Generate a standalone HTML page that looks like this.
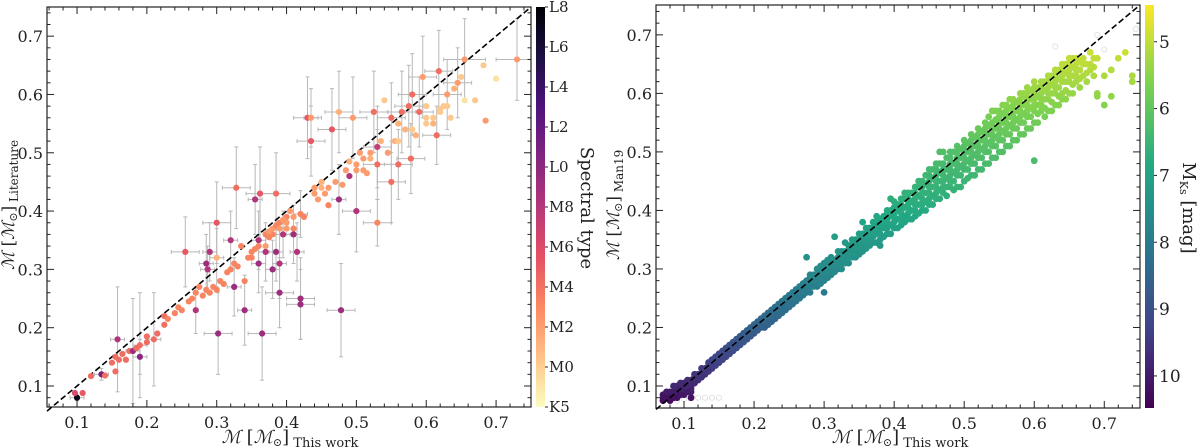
<!DOCTYPE html>
<html><head><meta charset="utf-8"><style>
html,body{margin:0;padding:0;background:#fff;width:1200px;height:448px;overflow:hidden}
svg{display:block;font-family:"DejaVu Serif","Liberation Serif",serif}
</style></head><body>
<svg id="fig" width="1200" height="448" viewBox="0 0 1200 448"></svg>
<script>
// ---------- LEFT PANEL DATA ----------
const lx=[0.100,0.097,0.108,0.120,0.135,0.140,0.155,0.150,0.155,0.160,
0.165,0.170,0.175,0.158,0.180,0.190,0.185,0.190,0.200,0.200,
0.210,0.215,0.225,0.225,0.230,0.240,0.245,0.250,0.255,0.260,
0.265,0.270,0.270,0.275,0.280,0.285,0.290,0.295,0.300,0.305,
0.310,0.285,0.290,0.287,0.300,0.300,0.302,0.315,0.320,0.320,
0.325,0.325,0.330,0.335,0.340,0.340,0.328,0.345,0.350,0.355,
0.355,0.360,0.360,0.362,0.365,0.370,0.370,0.375,0.380,0.380,
0.385,0.385,0.380,0.390,0.390,0.385,0.390,0.395,0.400,0.405,
0.410,0.410,0.415,0.420,0.420,0.420,0.425,0.430,0.435,0.435,
0.440,0.445,0.450,0.455,0.460,0.460,0.465,0.470,0.475,0.475,
0.478,0.480,0.485,0.490,0.490,0.495,0.500,0.500,0.505,0.510,
0.515,0.520,0.525,0.530,0.530,0.530,0.535,0.540,0.545,0.550,
0.550,0.555,0.560,0.560,0.565,0.570,0.575,0.578,0.580,0.585,
0.590,0.595,0.600,0.600,0.610,0.615,0.618,0.620,0.625,0.630,
0.635,0.640,0.645,0.650,0.655,0.655,0.670,0.682,0.685,0.700,
0.730,0.370,0.375,0.390,0.395,0.400,0.410,0.400,0.360,0.350,
0.440,0.450,0.500,0.520,0.510,0.560,0.580,0.600,0.620,0.630,0.610];
const ly=[0.080,0.088,0.088,0.117,0.120,0.118,0.125,0.140,0.150,0.145,
0.155,0.145,0.160,0.180,0.160,0.150,0.165,0.170,0.175,0.185,
0.180,0.190,0.205,0.220,0.215,0.225,0.235,0.230,0.330,0.245,
0.250,0.260,0.230,0.270,0.255,0.265,0.260,0.270,0.265,0.280,
0.275,0.310,0.330,0.300,0.320,0.380,0.190,0.295,0.300,0.350,
0.270,0.310,0.305,0.340,0.280,0.230,0.440,0.320,0.330,0.335,
0.420,0.350,0.310,0.430,0.190,0.330,0.360,0.355,0.360,0.370,
0.375,0.330,0.300,0.310,0.260,0.430,0.380,0.360,0.390,0.400,
0.370,0.360,0.330,0.395,0.250,0.240,0.390,0.560,0.520,0.560,
0.440,0.420,0.450,0.430,0.410,0.440,0.540,0.450,0.420,0.570,
0.230,0.445,0.470,0.460,0.485,0.560,0.480,0.400,0.500,0.470,
0.465,0.500,0.570,0.510,0.480,0.380,0.520,0.590,0.500,0.450,
0.560,0.520,0.480,0.550,0.570,0.540,0.580,0.490,0.600,0.530,
0.570,0.630,0.580,0.560,0.550,0.530,0.640,0.570,0.580,0.600,
0.560,0.610,0.620,0.630,0.660,0.590,0.590,0.650,0.555,0.627,
0.660,0.340,0.365,0.370,0.385,0.380,0.390,0.370,0.340,0.320,
0.430,0.440,0.470,0.490,0.490,0.520,0.540,0.550,0.575,0.580,0.560];
const lspt=[18,7,6,5,12,5,5,5,5,5,
5,5,5,9,10,11,5,5,5,5,
5,5,5,5,4,4,4,4,6,4,
4,4,9,4,4,4,4,4,4,4,
4,10,9,9,2,6,10,4,4,9,
10,4,4,4,4,10,5,4,4,4,
9,9,10,6,10,9,4,4,4,3,
4,10,10,9,10,5,4,9,4,3,
4,10,9,4,10,10,4,6,6,3,
3,3,2,3,4,3,6,3,10,2,
10,3,3,9,2,3,3,9,3,3,
3,3,5,8,5,4,2,1,3,5,
5,2,5,2,5,2,5,5,5,2,
5,3,1,1,2,5,5,1,1,3,
1,2,3,1,3,0,1,1,3,0,
3,3,3,3,3,3,3,3,4,4,
3,2,3,2,3,1,1,1,1,1,1];
const lxe=[0.01,0,0,0,0.01,0,0,0,0,0,
0,0,0,0.01,0.01,0.01,0,0.01,0,0,
0.01,0,0,0,0,0,0,0,0.02,0,
0,0,0,0,0,0,0,0,0,0,
0,0.01,0.01,0.01,0.01,0.02,0.02,0,0,0.01,
0.01,0,0,0,0,0.01,0.02,0,0,0,
0.01,0.01,0.01,0.02,0.02,0.01,0,0,0,0,
0,0.01,0.01,0.01,0.02,0.02,0,0.01,0,0,
0,0.01,0.01,0.01,0.02,0.02,0,0.02,0.02,0.01,
0,0,0,0,0,0,0.02,0,0.01,0.02,
0.02,0,0,0,0,0.02,0,0.02,0,0,
0,0,0.02,0.02,0.02,0.02,0,0,0,0.02,
0.02,0,0.02,0,0.02,0,0.02,0.02,0.02,0,
0.02,0.02,0,0,0,0.02,0.02,0,0,0.02,
0,0,0.02,0,0.03,0,0,0,0,0,
0.03,0,0,0,0,0,0,0,0,0,
0,0,0,0,0,0,0,0,0,0,0];
const lye=[0.005,0,0,0,0.01,0,0,0,0,0,
0,0,0,0.09,0.09,0.03,0,0.09,0,0,
0.08,0,0,0,0,0,0,0,0.06,0,
0,0,0.04,0,0,0,0,0,0,0,
0,0.05,0.05,0.04,0.05,0.07,0.07,0,0,0.05,
0.05,0,0,0,0,0.06,0.07,0,0,0,
0.06,0.05,0.05,0.08,0.08,0.05,0,0,0,0,
0,0.05,0.05,0.06,0.06,0.07,0,0.04,0,0,
0,0.05,0.05,0.04,0.07,0.06,0,0.07,0.06,0.05,
0,0,0,0,0,0,0.07,0,0.06,0.07,
0.08,0,0,0,0,0.07,0,0.07,0,0,
0,0,0.07,0.07,0.06,0.04,0,0,0,0.07,
0.06,0,0.06,0,0.07,0,0.07,0.06,0.07,0,
0.06,0.07,0,0,0,0.05,0.07,0,0,0.06,
0,0,0.06,0,0.07,0,0,0,0,0,
0.07,0,0,0,0,0,0,0,0,0,
0,0,0,0,0,0,0,0,0,0,0];
const ltickVals=[0.1,0.2,0.3,0.4,0.5,0.6,0.7];
const sptLabels=["K5","M0","M2","M4","M6","M8","L0","L2","L4","L6","L8"];
const sptTickVals=[-2,0,2,4,6,8,10,12,14,16,18];

// ---------- RIGHT PANEL DATA ----------
const rxCols=[0.07,0.08,0.09,0.10,0.11,0.12,0.13,0.14,0.15,0.16,0.17,0.18,0.19,0.20,0.21,0.22,0.23,0.24,0.25,0.26,0.27,0.28,0.29,0.30,0.31,0.32,0.33,0.34,0.35,0.36,0.37,0.38,0.39,0.40,0.41,0.42,0.43,0.44,0.45,0.46,0.47,0.48,0.49,0.50,0.51,0.52,0.53,0.54,0.55,0.56,0.57,0.58,0.59,0.60,0.61,0.62,0.63,0.64,0.65,0.66,0.67,0.68,0.69,0.70,0.71,0.72,0.73,0.74];
const ryRows=[[0.075,0.08,0.085],[0.075,0.085,0.09,0.08],[0.08,0.09,0.095,0.1],[0.085,0.095,0.1,0.105],[0.09,0.1,0.11,0.095,0.08],
[0.11,0.12,0.115],[0.12,0.125,0.13],[0.13,0.14,0.135,0.145],[0.14,0.15,0.155,0.145],[0.15,0.16,0.165,0.155],
[0.16,0.17,0.175,0.165],[0.17,0.18,0.185,0.175],[0.18,0.19,0.195,0.185],[0.19,0.2,0.205,0.195],[0.2,0.21,0.215,0.205],
[0.21,0.22,0.225,0.205],[0.22,0.225,0.235,0.215],[0.225,0.235,0.24,0.245,0.23],[0.235,0.245,0.25,0.255,0.24],[0.245,0.25,0.26,0.265,0.255],
[0.255,0.26,0.27,0.275,0.265],[0.26,0.27,0.275,0.285,0.29],[0.27,0.28,0.285,0.29,0.3],[0.28,0.29,0.295,0.3,0.31,0.26],[0.29,0.3,0.305,0.31,0.32],
[0.3,0.31,0.315,0.32,0.33],[0.31,0.32,0.325,0.33,0.345],[0.32,0.33,0.335,0.34,0.35],[0.325,0.335,0.345,0.35,0.36,0.34],[0.335,0.345,0.355,0.36,0.37,0.35],
[0.345,0.355,0.36,0.37,0.38],[0.35,0.36,0.37,0.375,0.385,0.34],[0.36,0.37,0.38,0.385,0.395,0.4],[0.37,0.38,0.39,0.395,0.405,0.415],[0.375,0.385,0.395,0.4,0.41,0.42],
[0.385,0.395,0.405,0.41,0.42,0.43],[0.39,0.4,0.41,0.42,0.43,0.44],[0.4,0.41,0.42,0.43,0.44,0.45],[0.41,0.42,0.43,0.44,0.45,0.46,0.47],[0.42,0.43,0.44,0.45,0.46,0.47,0.48],
[0.43,0.44,0.45,0.46,0.47,0.48,0.5],[0.44,0.45,0.46,0.47,0.48,0.49,0.5],[0.44,0.46,0.47,0.48,0.49,0.5,0.51],[0.45,0.47,0.48,0.49,0.5,0.51,0.52],[0.46,0.48,0.49,0.5,0.51,0.52,0.53],
[0.47,0.49,0.5,0.51,0.52,0.53,0.54],[0.48,0.5,0.51,0.52,0.53,0.54,0.55],[0.49,0.51,0.52,0.53,0.54,0.55,0.57],[0.5,0.52,0.53,0.54,0.55,0.56,0.57],[0.51,0.53,0.54,0.55,0.56,0.57,0.58],
[0.52,0.54,0.55,0.56,0.57,0.58,0.59],[0.53,0.55,0.56,0.57,0.58,0.59,0.6],[0.54,0.56,0.57,0.58,0.59,0.6,0.61],[0.55,0.57,0.58,0.59,0.6,0.61,0.62,0.485],[0.57,0.58,0.59,0.6,0.61,0.62],
[0.57,0.59,0.6,0.61,0.62,0.63],[0.58,0.6,0.61,0.62,0.63,0.64],[0.59,0.6,0.62,0.63,0.64,0.65],[0.6,0.62,0.63,0.64,0.65,0.66],[0.62,0.63,0.64,0.65,0.66],
[0.63,0.65,0.66],[0.64,0.65,0.67],[0.6,0.66,0.595],[0.63,0.58],[0.64,0.595],[0.66],[0.67],[0.63,0.62]];
const rxCols2=[0.075,0.085,0.095,0.105,0.115,0.125,0.135,0.145,0.155,0.165,0.175,0.185,0.195,0.205,0.215,0.225,0.235,0.245,0.255,0.265,0.275,0.285,0.295,0.305,0.315,0.325,0.335,0.345,0.355,0.365,0.375,0.385,0.395,0.405,0.415,0.425,0.435,0.445,0.455,0.465,0.475,0.485,0.495,0.505,0.515,0.525,0.535,0.545,0.555,0.565,0.575,0.585,0.595,0.605,0.615,0.625,0.635,0.645,0.655,0.665,0.675,0.685];
const ryRows2=[[0.08,0.09],[0.08,0.09,0.1],[0.085,0.095,0.105],[0.09,0.1,0.11],[0.105,0.115,0.12],
[0.115,0.12,0.13],[0.125,0.135,0.14],[0.135,0.145,0.15],[0.145,0.155,0.16],[0.155,0.165,0.17],
[0.165,0.175,0.18],[0.175,0.185,0.19],[0.185,0.195,0.2],[0.195,0.205,0.21],[0.2,0.21,0.22],
[0.21,0.22,0.23],[0.22,0.23,0.24],[0.23,0.24,0.25],[0.24,0.25,0.26],[0.25,0.26,0.27],
[0.26,0.27,0.28,0.32],[0.27,0.28,0.29],[0.275,0.285,0.295,0.305],[0.285,0.295,0.305,0.315],[0.295,0.305,0.315,0.355],
[0.3,0.31,0.32,0.33],[0.31,0.32,0.33,0.34],[0.32,0.33,0.34,0.35],[0.33,0.34,0.35,0.36,0.38],[0.34,0.35,0.36,0.37],
[0.345,0.36,0.37,0.38,0.39],[0.355,0.37,0.38,0.39],[0.36,0.375,0.39,0.4,0.42],[0.37,0.385,0.4,0.41],[0.38,0.39,0.405,0.42,0.43],
[0.385,0.4,0.415,0.43],[0.395,0.41,0.425,0.44,0.45],[0.4,0.415,0.43,0.445,0.46],[0.41,0.425,0.44,0.455,0.47],[0.42,0.435,0.45,0.465,0.48,0.5],
[0.425,0.44,0.455,0.47,0.49],[0.435,0.45,0.465,0.48,0.5],[0.44,0.46,0.475,0.49,0.505],[0.455,0.47,0.485,0.5,0.515],[0.46,0.48,0.495,0.51,0.525],
[0.47,0.49,0.505,0.52,0.535],[0.48,0.5,0.515,0.53,0.545,0.56],[0.49,0.51,0.525,0.54,0.555,0.57],[0.5,0.52,0.535,0.55,0.565,0.58],[0.51,0.53,0.545,0.56,0.575,0.59],
[0.52,0.54,0.555,0.57,0.585],[0.53,0.55,0.565,0.58,0.595,0.6],[0.54,0.56,0.575,0.59,0.605],[0.55,0.565,0.58,0.595,0.61],[0.56,0.575,0.59,0.605,0.62],
[0.57,0.585,0.6,0.615,0.63],[0.58,0.595,0.61,0.625,0.64],[0.59,0.605,0.62,0.635,0.65],[0.6,0.615,0.63,0.645,0.66],[0.61,0.625,0.64,0.655],
[0.62,0.635,0.65],[0.63,0.645,0.66]];
const rHollowX=[0.09,0.1,0.11,0.12,0.13,0.14,0.15,0.63,0.69,0.70,0.745];
const rHollowY=[0.075,0.078,0.08,0.08,0.08,0.08,0.08,0.68,0.70,0.675,0.71];
// Mass -> M_Ks calibration used for point colours
const calMass=[0.07,0.1,0.2,0.3,0.4,0.5,0.6,0.7];
const calMks=[10.4,9.8,8.6,7.6,6.8,6.2,5.4,4.7];
const mksTickVals=[5,6,7,8,9,10];

// ---------- helpers ----------
const NS="http://www.w3.org/2000/svg";
const svg=document.getElementById('fig');
function mk(tag,attrs,parent){const e=document.createElementNS(NS,tag);for(const k in attrs)e.setAttribute(k,attrs[k]);(parent||svg).appendChild(e);return e;}
function lerpStops(stops,t){t=Math.max(0,Math.min(1,t));const n=stops.length-1;const i=Math.min(n-1,Math.floor(t*n));const f=t*n-i;
 const a=stops[i],b=stops[i+1];const h=s=>[parseInt(s.slice(1,3),16),parseInt(s.slice(3,5),16),parseInt(s.slice(5,7),16)];
 const A=h(a),B=h(b);return 'rgb('+A.map((v,j)=>Math.round(v+(B[j]-v)*f)).join(',')+')';}
const magma=['#000004','#1c1044','#4f127b','#812581','#b5367a','#e55064','#fb8861','#fec287','#fcfdbf'];
const viridis=['#440154','#414487','#2a788e','#22a884','#7ad151','#fde725'];
function interp(xs,ys,v){if(v<=xs[0])return ys[0]+(v-xs[0])*(ys[1]-ys[0])/(xs[1]-xs[0]);for(let i=0;i<xs.length-1;i++){if(v<=xs[i+1])return ys[i]+(v-xs[i])*(ys[i+1]-ys[i])/(xs[i+1]-xs[i]);}const n=xs.length-1;return ys[n]+(v-xs[n])*(ys[n]-ys[n-1])/(xs[n]-xs[n-1]);}

function drawAxesFrame(P,name){
 const g=mk('g',{});
 
 
 for(let v=0.06;v<=0.75;v+=0.02){
  const vv=Math.round(v*100)/100;const major=Math.abs(vv*10-Math.round(vv*10))<1e-6;const L=major?7:3.5;
  const x=P.sx(vv);if(x>=P.x0&&x<=P.x1){mk('line',{x1:x,x2:x,y1:P.y1,y2:P.y1-L,stroke:'#222','stroke-width':1},g);mk('line',{x1:x,x2:x,y1:P.y0,y2:P.y0+L,stroke:'#222','stroke-width':1},g);}
  const y=P.sy(vv);if(y>=P.y0&&y<=P.y1){mk('line',{x1:P.x0,x2:P.x0+L,y1:y,y2:y,stroke:'#222','stroke-width':1},g);mk('line',{x1:P.x1,x2:P.x1-L,y1:y,y2:y,stroke:'#222','stroke-width':1},g);}
 }
 mk('rect',{x:P.x0,y:P.y0,width:P.x1-P.x0,height:P.y1-P.y0,fill:'none',stroke:'#222','stroke-width':1.2},g);
 ltickVals.forEach(v=>{
  const t=mk('text',{x:P.sx(v),y:P.y1+21,'text-anchor':'middle','font-size':16,fill:'#222'},g);t.textContent=v.toFixed(1);
  
  
  const t2=mk('text',{x:P.x0-4,y:P.sy(v)+6,'text-anchor':'end','font-size':16,fill:'#222'},g);t2.textContent=v.toFixed(1);
  
  
 });
 const hi=Math.min(P.xd[1],P.yd[1]);
 const lo=Math.min(P.xd[0],P.yd[0]);
 const d=mk('line',{x1:P.sx(lo),y1:P.sy(lo),x2:P.sx(hi),y2:P.sy(hi),stroke:'#000','stroke-width':1.6,'stroke-dasharray':'6,3'});
 
 
 return d;
}
function makeP(x0,x1,y0,y1,xd,yd){return {x0,x1,y0,y1,xd,yd,sx:v=>x0+(v-xd[0])/(xd[1]-xd[0])*(x1-x0),sy:v=>y1-(v-yd[0])/(yd[1]-yd[0])*(y1-y0)};}

// ---------- LEFT ----------
const PL=makeP(47,531,7,407,[0.057,0.75],[0.064,0.75]);
const clipL=mk('clipPath',{id:'cl'});mk('rect',{x:47,y:7,width:484,height:400},clipL);
const gErr=mk('g',{'clip-path':'url(#cl)'});


lx.forEach((x,i)=>{
 const y=ly[i];
 if(lxe[i]>0){const a=PL.sx(x-lxe[i]),b=PL.sx(x+lxe[i]),yy=PL.sy(y);mk('line',{x1:a,x2:b,y1:yy,y2:yy,stroke:'#b8b8b8','stroke-width':1},gErr);mk('line',{x1:a,x2:a,y1:yy-2,y2:yy+2,stroke:'#b8b8b8'},gErr);mk('line',{x1:b,x2:b,y1:yy-2,y2:yy+2,stroke:'#b8b8b8'},gErr);}
 if(lye[i]>0){const a=PL.sy(y-lye[i]),b=PL.sy(y+lye[i]),xx=PL.sx(x);mk('line',{x1:xx,x2:xx,y1:a,y2:b,stroke:'#b8b8b8','stroke-width':1},gErr);mk('line',{x1:xx-2,x2:xx+2,y1:a,y2:a,stroke:'#b8b8b8'},gErr);mk('line',{x1:xx-2,x2:xx+2,y1:b,y2:b,stroke:'#b8b8b8'},gErr);}
});
drawAxesFrame(PL,'left');
const gPL=mk('g',{'clip-path':'url(#cl)'});


lx.forEach((x,i)=>{
 const c=mk('circle',{cx:PL.sx(x),cy:PL.sy(ly[i]),r:3.1,fill:lerpStops(magma,(18-lspt[i]+0.8)/20)},gPL);
 
 
});
// colorbars
const defs=mk('defs',{});
const gm=mk('linearGradient',{id:'gmag',x1:0,y1:1,x2:0,y2:0},defs);
const nM=magma.length-1;
magma.forEach((c,i)=>mk('stop',{offset:i/nM,'stop-color':magma[nM-i]},gm));
const gv=mk('linearGradient',{id:'gvir',x1:0,y1:1,x2:0,y2:0},defs);
viridis.forEach((c,i)=>mk('stop',{offset:i/(viridis.length-1),'stop-color':c},gv));
const cbL=mk('rect',{x:536,y:7,width:9,height:400,fill:'url(#gmag)'});


sptTickVals.forEach((v,i)=>{
 const y=407-(v+2)/20*400;
 mk('line',{x1:545,x2:548,y1:y,y2:y,stroke:'#222'});
 const t=mk('text',{x:549,y:y+5,'font-size':15,fill:'#222'});t.textContent=sptLabels[i];
 
 
});
const stl=mk('text',{x:0,y:0,transform:'translate(581,208) rotate(90)','text-anchor':'middle','font-size':18,fill:'#222'});stl.textContent='Spectral type';



function axisLabels(cx,cy,ylx,sub,subY,name){
 const xl=mk('text',{x:cx,y:443,'text-anchor':'middle','font-size':18,fill:'#222'});
 xl.innerHTML='<tspan font-style="italic">ℳ</tspan> [<tspan font-style="italic">ℳ</tspan><tspan font-size="11" dy="3">⊙</tspan><tspan dy="-3">]</tspan><tspan font-size="13" dy="4"> '+sub+'</tspan>';
 
 
 const yl=mk('text',{x:0,y:0,transform:'translate('+ylx+','+cy+') rotate(-90)','text-anchor':'middle','font-size':17,fill:'#222'});
 yl.innerHTML='<tspan font-style="italic">ℳ</tspan> [<tspan font-style="italic">ℳ</tspan><tspan font-size="11" dy="3">⊙</tspan><tspan dy="-3">]</tspan><tspan font-size="12" dy="4"> '+subY+'</tspan>';
 
 
}
axisLabels(290,205,14,'This work','Literature','left');

// ---------- RIGHT ----------
const PR=makeP(656,1140,5,408,[0.06,0.751],[0.0624,0.751]);
const clipR=mk('clipPath',{id:'cr'});mk('rect',{x:656,y:5,width:484,height:403},clipR);
const gH=mk('g',{'clip-path':'url(#cr)'});


rHollowX.forEach((x,i)=>{mk('circle',{cx:PR.sx(x),cy:PR.sy(rHollowY[i]),r:2.6,fill:'none',stroke:'#dcdcdc','stroke-width':0.8},gH);});
const gPR=mk('g',{'clip-path':'url(#cr)'});


function drawRight(cols,rows){
 cols.forEach((x,i)=>{
  rows[i].forEach(y=>{
   const m=interp(calMass,calMks,y);
   const c=mk('circle',{cx:PR.sx(x),cy:PR.sy(y),r:3.4,fill:lerpStops(viridis,(10.48-m)/(10.48-4.45))},gPR);
   
   
  });
 });
}
drawRight(rxCols,ryRows);
drawRight(rxCols2,ryRows2);
drawAxesFrame(PR,'right');
const cbR=mk('rect',{x:1145,y:5,width:9,height:403,fill:'url(#gvir)'});


mksTickVals.forEach(v=>{
 const y=5+(v-4.45)/(10.48-4.45)*403;
 mk('line',{x1:1154,x2:1157,y1:y,y2:y,stroke:'#222'});
 const t=mk('text',{x:1159,y:y+6,'font-size':17,fill:'#222'});t.textContent=v;
 
 
});
const mtl=mk('text',{x:0,y:0,transform:'translate(1183,208) rotate(90)','text-anchor':'middle','font-size':18,fill:'#222'});
mtl.innerHTML='M<tspan font-size="11" dy="3">Ks</tspan><tspan dy="-3"> [mag]</tspan>';


axisLabels(900,205,619,'This work','Man19','right');
</script>
</body></html>
